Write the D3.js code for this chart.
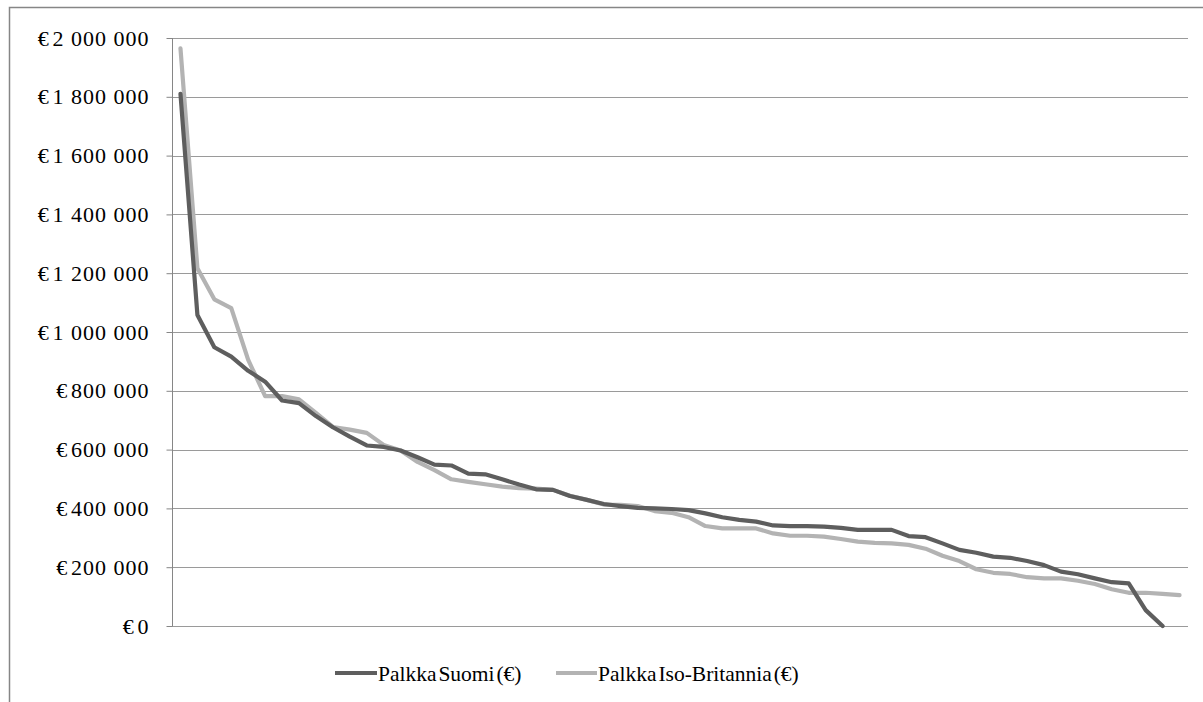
<!DOCTYPE html>
<html>
<head>
<meta charset="utf-8">
<script src="https://cdn.jsdelivr.net/npm/d3@7"></script>
<style>
  html, body { margin: 0; padding: 0; background: #ffffff; }
  svg { display: block; }
  text { font-family: "Liberation Serif", "Times New Roman", serif; fill: #000; }
</style>
</head>
<body>
<svg id="chart" width="1203" height="702"></svg>
<script>
// Salary distribution, sorted high to low, Finland vs. United Kingdom (€)
const categories = d3.range(1, 61);

const palkkaSuomi = [
  1810000, 1058000, 948000, 916000, 868000, 831000, 767000, 758000, 714000, 676000,
  644000, 614000, 609000, 597000, 574000, 549000, 546000, 518000, 516000, 499000,
  481000, 465000, 463000, 442000, 429000, 415000, 408000, 402000, 400000, 398000,
  394000, 383000, 370000, 361000, 355000, 342000, 340000, 340000, 338000, 334000,
  327000, 327000, 327000, 306000, 302000, 281000, 259000, 249000, 236000, 232000,
  221000, 207000, 185000, 176000, 162000, 149000, 145000, 54000, 0
];

const palkkaIsoBritannia = [
  1965000, 1217000, 1111000, 1081000, 905000, 782000, 782000, 771000, 725000, 677000,
  668000, 657000, 616000, 597000, 558000, 530000, 499000, 490000, 482000, 474000,
  469000, 467000, 463000, 443000, 429000, 413000, 412000, 408000, 391000, 385000,
  370000, 340000, 332000, 332000, 332000, 315000, 307000, 307000, 304000, 296000,
  287000, 283000, 281000, 276000, 263000, 239000, 221000, 193000, 181000, 177000,
  166000, 162000, 162000, 154000, 143000, 125000, 113000, 113000, 109000, 105000
];

const yTicks = [0, 200000, 400000, 600000, 800000, 1000000, 1200000, 1400000, 1600000, 1800000, 2000000];

const seriesNames = ["Palkka Suomi (€)", "Palkka Iso-Britannia (€)"];
const seriesColors = ["#5e5e5e", "#b3b3b3"];

const svg = d3.select("#chart");

// outer chart frame
svg.append("rect")
  .attr("x", 9.5).attr("y", 7.5)
  .attr("width", 1210).attr("height", 710)
  .attr("fill", "none")
  .attr("stroke", "#868686")
  .attr("stroke-width", 1.5);

const plot = { left: 172, right: 1188, top: 38, bottom: 626 };

const x = d3.scaleBand()
  .domain(categories)
  .range([plot.left, plot.right]);

const y = d3.scaleLinear()
  .domain([0, 2000000])
  .range([plot.bottom, plot.top]);

const euro = d3.formatLocale({ decimal: ",", thousands: " ", grouping: [3], currency: ["€", ""] });
const fmt = v => "€\u200a" + euro.format(",d")(v);

// horizontal gridlines
svg.append("g")
  .selectAll("line")
  .data(yTicks)
  .join("line")
  .attr("x1", plot.left)
  .attr("x2", plot.right)
  .attr("y1", d => Math.round(y(d)) + 0.5)
  .attr("y2", d => Math.round(y(d)) + 0.5)
  .attr("stroke", "#9a9a9a")
  .attr("stroke-width", 1.2);

// value axis
const yAxis = d3.axisLeft(y)
  .tickValues(yTicks)
  .tickSize(6)
  .tickPadding(17)
  .tickFormat(fmt);

const gy = svg.append("g")
  .attr("transform", `translate(${plot.left + 0.5},0)`)
  .call(yAxis);
gy.select(".domain").attr("stroke", "#868686").attr("d", `M0,${plot.top}V${plot.bottom}`);
gy.selectAll(".tick line").attr("stroke", "#868686");
gy.selectAll(".tick text")
  .style("font-family", '"Liberation Serif", "Times New Roman", serif')
  .style("font-size", "22px")
  .style("letter-spacing", "1px")
  .style("white-space", "pre")
  .attr("fill", "#000");

// series lines
const cx = i => x(categories[i]) + x.bandwidth() / 2;
const line = d3.line()
  .x((d, i) => cx(i))
  .y(d => y(d));

// lighter series first so the darker one sits on top
[1, 0].forEach(k => {
  const vals = k === 0 ? palkkaSuomi : palkkaIsoBritannia;
  svg.append("path")
    .datum(vals)
    .attr("fill", "none")
    .attr("stroke", seriesColors[k])
    .attr("stroke-width", 4.2)
    .attr("stroke-linejoin", "round")
    .attr("stroke-linecap", "round")
    .attr("d", line);
});

// legend
const legendItems = [
  { name: seriesNames[0], color: seriesColors[0], x0: 335, x1: 377 },
  { name: seriesNames[1], color: seriesColors[1], x0: 556, x1: 597 }
];
const legendY = 673;
const lg = svg.append("g");
legendItems.forEach(it => {
  lg.append("line")
    .attr("x1", it.x0).attr("x2", it.x1)
    .attr("y1", legendY).attr("y2", legendY)
    .attr("stroke", it.color)
    .attr("stroke-width", 4.2);
  lg.append("text")
    .attr("x", it.x1 + 1)
    .attr("y", legendY)
    .attr("dy", "0.35em")
    .style("font-size", "21.5px")
    .style("word-spacing", "-3.5px")
    .text(it.name);
});
</script>
</body>
</html>
